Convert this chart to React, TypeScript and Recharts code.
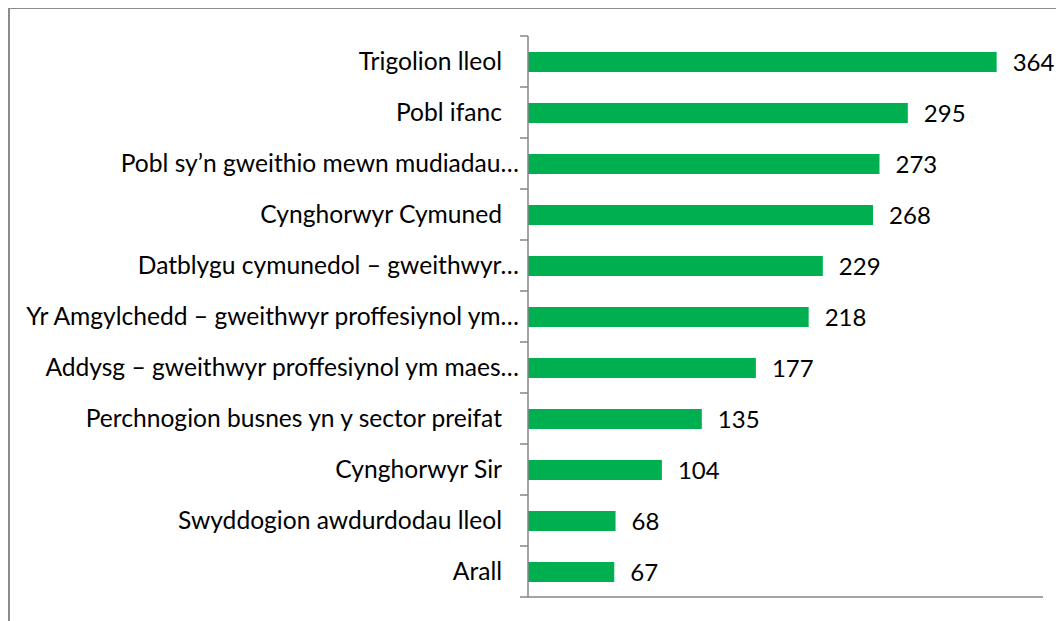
import React from 'react';
import { BarChart, Bar, XAxis, YAxis, LabelList } from 'recharts';

const categories = [
  'Trigolion lleol',
  'Pobl ifanc',
  'Pobl sy\u2019n gweithio mewn mudiadau\u2026',
  'Cynghorwyr Cymuned',
  'Datblygu cymunedol \u2013 gweithwyr\u2026',
  'Yr Amgylchedd \u2013 gweithwyr proffesiynol ym\u2026',
  'Addysg \u2013 gweithwyr proffesiynol ym maes\u2026',
  'Perchnogion busnes yn y sector preifat',
  'Cynghorwyr Sir',
  'Swyddogion awdurdodau lleol',
  'Arall',
];
const counts = [364, 295, 273, 268, 229, 218, 177, 135, 104, 68, 67];

const data = categories.map((name, i) => ({ name, value: counts[i] }));

const FONT = 'Lato, "Open Sans", sans-serif';
const AXIS_GRAY = '#868686';
const PLOT_TOP = 27;
const PLOT_HEIGHT = 561;
const BAND = PLOT_HEIGHT / categories.length;

// x here is axis - 22; truncated labels sit right up against the tick marks
function CategoryTick({ x, y, payload, index }: any) {
  const last = index === categories.length - 1;
  const truncated = String(payload.value).endsWith('\u2026');
  return (
    <g>
      <line x1={x + 14} x2={x + 22} y1={y - BAND / 2} y2={y - BAND / 2} stroke={AXIS_GRAY} strokeWidth={1.5} />
      {last && (
        <line x1={x + 14} x2={x + 22} y1={y + BAND / 2} y2={y + BAND / 2} stroke={AXIS_GRAY} strokeWidth={1.5} />
      )}
      <text
        x={truncated ? x + 13 : x - 4}
        y={y}
        dy="0.35em"
        textAnchor="end"
        fontSize={24.6}
        fill="#000"
        fontFamily={FONT}
      >
        {payload.value}
      </text>
    </g>
  );
}

export default function App() {
  return (
    <div
      style={{
        marginTop: -1,
        borderTop: '2px solid #8c8c8c',
        borderLeft: '2px solid #8c8c8c',
        width: 1060,
        height: 620,
        background: '#fff',
      }}
    >
      <BarChart
        width={1054}
        height={612}
        data={data}
        layout="vertical"
        margin={{ top: PLOT_TOP, right: 21, left: 0, bottom: 23 }}
      >
        <XAxis
          type="number"
          domain={[0, 400]}
          tick={false}
          tickLine={false}
          height={1}
          axisLine={{ stroke: AXIS_GRAY, strokeWidth: 1.5 }}
        />
        <YAxis
          type="category"
          dataKey="name"
          width={518}
          interval={0}
          tickSize={8}
          tickMargin={14}
          tickLine={false}
          axisLine={{ stroke: AXIS_GRAY, strokeWidth: 1.5 }}
          tick={<CategoryTick />}
        />
        <Bar dataKey="value" fill="#00b050" barSize={20} isAnimationActive={false}>
          <LabelList
            dataKey="value"
            position="right"
            offset={16}
            fontSize={24}
            fill="#000"
            fontFamily={FONT}
          />
        </Bar>
      </BarChart>
    </div>
  );
}
